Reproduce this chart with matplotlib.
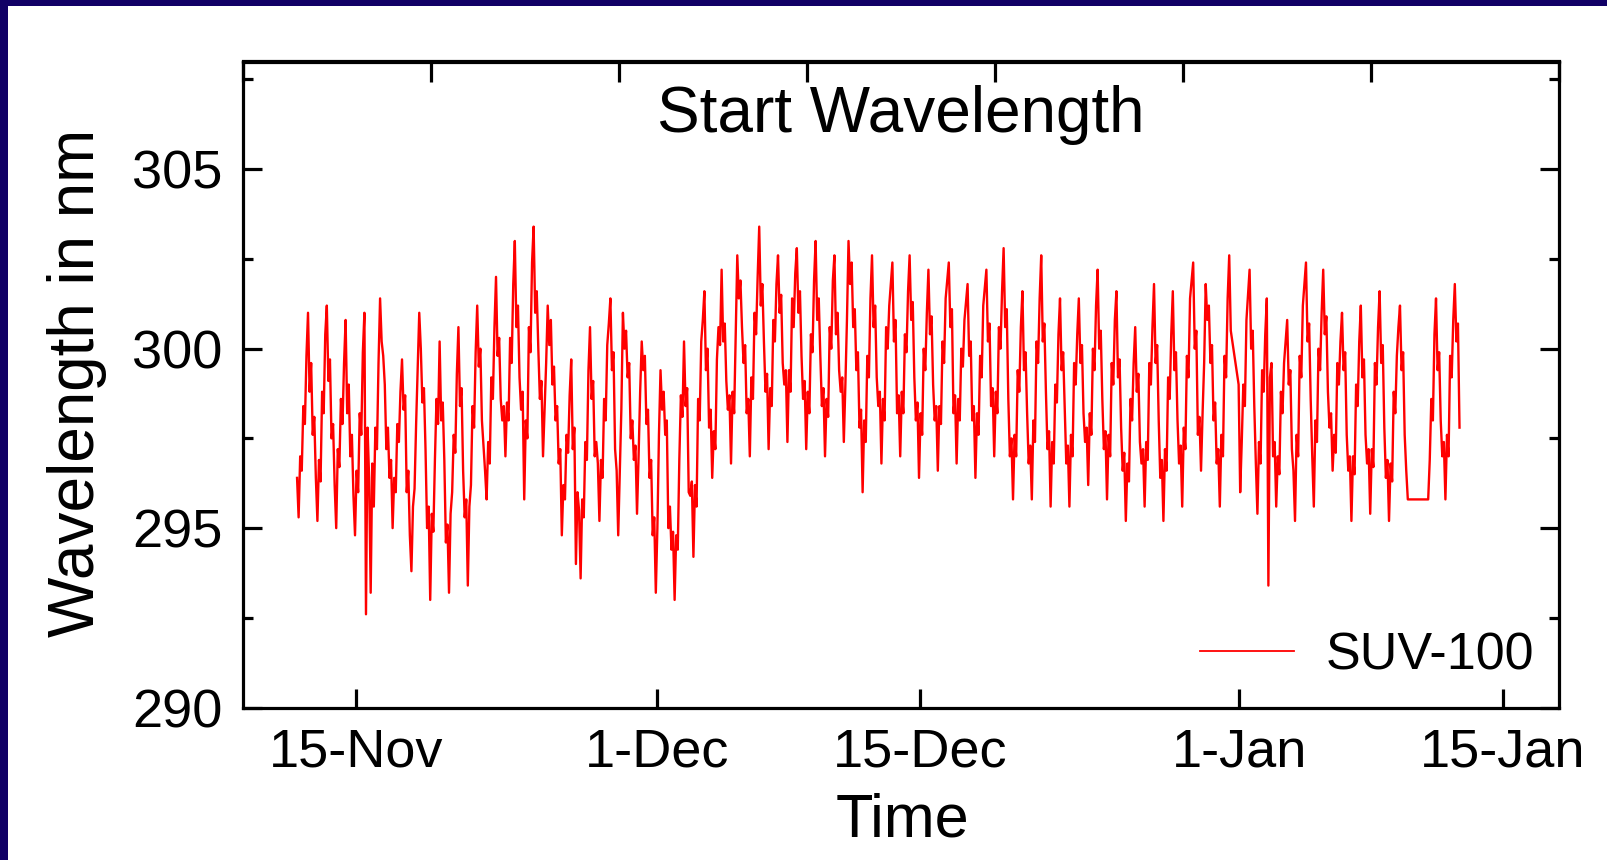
import numpy as np
import pandas as pd
import matplotlib
matplotlib.use("Agg")
import matplotlib.pyplot as plt
from matplotlib.patches import Rectangle
from datetime import datetime, timedelta

nan = np.nan

# ---- data: start wavelength (nm), 12 samples per day (2-hourly) ----
axis_start = datetime(2000, 11, 9)
axis_end = datetime(2001, 1, 18)
first_day = datetime(2000, 11, 11)
samples_per_day = 12

nov_rows = [
    [nan] * 10 + [296.4, 295.3],
    [297.0, 296.6, 298.4, 297.9, 299.8, 301.0, 298.8, 299.6, 297.6, 298.1, 296.4, 295.2],
    [296.9, 296.3, 298.8, 298.2, 300.4, 301.2, 299.1, 299.7, 297.5, 297.9, 296.2, 295.0],
    [297.2, 296.7, 298.6, 297.9, 299.6, 300.8, 298.2, 299.0, 297.0, 297.6, 295.9, 294.8],
    [296.6, 296.0, 298.2, 297.6, 299.9, 301.0, 292.6, 297.8, 296.4, 293.2, 296.8, 295.6],
    [297.8, 297.2, 299.6, 301.4, 300.2, 299.8, 299.0, 297.2, 297.8, 296.4, 296.9, 295.0],
    [296.4, 296.0, 297.9, 297.4, 298.8, 299.7, 298.3, 298.7, 296.0, 296.6, 294.8, 293.8],
    [295.6, 296.1, 297.9, 299.4, 301.0, 300.0, 298.5, 298.9, 297.2, 295.0, 295.6, 293.0],
    [295.4, 294.9, 296.9, 298.6, 297.9, 300.2, 298.0, 298.5, 296.9, 294.6, 295.1, 293.2],
    [295.4, 296.0, 297.6, 297.1, 299.3, 300.6, 298.4, 298.9, 296.6, 295.3, 295.8, 293.4],
    [295.6, 296.2, 298.4, 297.8, 299.9, 301.2, 299.5, 300.0, 298.0, 297.3, 296.6, 295.8],
    [297.4, 296.8, 299.2, 298.6, 300.6, 302.0, 299.8, 300.3, 298.6, 298.0, 298.4, 297.0],
    [298.5, 298.0, 300.3, 299.6, 301.8, 303.0, 300.6, 301.2, 299.2, 298.3, 298.8, 295.8],
    [298.0, 297.5, 300.6, 299.9, 302.4, 303.4, 301.0, 301.6, 300.0, 298.6, 299.1, 297.0],
    [298.3, 299.6, 301.2, 300.1, 300.8, 299.0, 299.5, 298.0, 298.4, 296.8, 297.2, 294.8],
    [296.2, 295.8, 297.6, 297.1, 298.7, 299.7, 297.2, 297.8, 294.0, 296.0, 295.5, 293.6],
    [295.8, 295.3, 297.4, 296.9, 299.4, 300.6, 298.6, 299.1, 297.0, 297.4, 296.8, 295.2],
    [296.9, 296.4, 298.6, 298.0, 300.1, 300.7, 301.4, 299.4, 299.9, 297.2, 296.6, 294.8],
    [296.6, 298.3, 301.0, 300.0, 300.5, 299.2, 299.6, 297.5, 298.0, 296.9, 297.3, 295.4],
    [297.0, 298.8, 300.2, 299.4, 299.8, 297.9, 298.3, 296.4, 296.9, 294.8, 295.3, 293.2],
]

dec_rows = [
    [295.0, 297.6, 299.4, 298.3, 298.8, 297.6, 298.0, 295.0, 295.6, 294.4, 294.9, 293.0],
    [294.8, 294.4, 296.9, 298.7, 298.1, 300.2, 298.4, 298.9, 296.0, 295.9, 296.3, 294.2],
    [296.2, 295.6, 298.6, 298.0, 300.2, 300.8, 301.6, 299.4, 300.0, 297.8, 298.3, 296.4],
    [297.7, 297.2, 299.7, 300.6, 300.1, 302.2, 300.2, 300.7, 299.1, 298.3, 298.7, 296.8],
    [298.8, 298.2, 300.4, 302.6, 301.4, 301.9, 300.6, 299.6, 300.1, 298.2, 298.6, 297.0],
    [299.2, 298.6, 301.0, 300.4, 302.0, 303.4, 301.2, 301.8, 300.2, 298.8, 299.3, 297.2],
    [298.9, 298.4, 300.8, 300.2, 301.8, 302.6, 301.0, 301.5, 299.6, 299.0, 299.4, 297.4],
    [299.4, 298.8, 301.4, 300.6, 302.1, 302.8, 301.0, 301.6, 299.8, 298.6, 299.1, 297.2],
    [298.8, 298.2, 300.4, 299.9, 301.9, 303.0, 300.8, 301.4, 299.8, 298.4, 298.9, 297.0],
    [298.6, 298.1, 300.6, 300.0, 301.9, 302.6, 300.4, 301.0, 299.4, 298.8, 299.2, 297.4],
    [299.0, 300.8, 303.0, 301.8, 302.4, 300.6, 301.1, 299.4, 299.9, 297.8, 298.3, 296.0],
    [298.0, 297.4, 299.8, 299.2, 301.4, 302.6, 300.6, 301.2, 299.2, 298.4, 298.8, 296.8],
    [298.6, 298.0, 300.6, 300.0, 301.2, 301.8, 302.4, 300.2, 300.8, 298.2, 298.7, 297.0],
    [298.8, 298.2, 300.4, 299.9, 301.6, 302.6, 300.8, 301.3, 299.2, 298.0, 298.5, 296.4],
    [298.2, 297.6, 300.0, 299.4, 301.0, 302.2, 300.4, 300.9, 299.0, 298.0, 298.4, 296.6],
    [298.4, 297.9, 300.2, 299.6, 301.4, 301.9, 302.4, 300.6, 301.1, 298.2, 298.7, 296.8],
    [298.6, 298.0, 300.0, 299.5, 300.8, 301.3, 301.8, 299.8, 300.2, 298.0, 298.4, 296.4],
    [298.2, 297.6, 299.8, 299.2, 301.2, 301.7, 302.2, 300.2, 300.7, 298.4, 298.9, 297.0],
    [298.8, 298.2, 300.6, 300.0, 301.6, 302.8, 300.6, 301.1, 298.6, 297.0, 297.5, 295.8],
    [297.6, 297.0, 299.4, 298.8, 300.6, 301.6, 299.4, 299.9, 298.2, 296.8, 297.3, 295.8],
    [298.0, 297.4, 300.2, 299.6, 301.4, 302.6, 300.2, 300.7, 298.8, 297.2, 297.7, 295.6],
    [297.4, 296.8, 299.0, 298.5, 300.4, 301.4, 299.4, 299.9, 298.4, 296.8, 297.3, 295.6],
    [297.6, 297.0, 299.6, 299.0, 300.4, 301.4, 299.6, 300.1, 298.2, 297.4, 297.8, 296.2],
    [298.2, 297.6, 300.0, 299.4, 301.2, 302.2, 300.0, 300.5, 298.6, 297.2, 297.7, 295.8],
    [297.6, 297.0, 299.6, 299.0, 300.8, 301.6, 299.2, 299.7, 297.8, 296.6, 297.1, 295.2],
    [296.8, 296.3, 298.6, 298.0, 299.6, 300.6, 298.8, 299.3, 297.4, 296.8, 297.2, 295.6],
    [297.4, 296.9, 299.6, 299.0, 300.6, 301.8, 299.6, 300.1, 298.0, 296.4, 296.9, 295.2],
    [297.2, 296.6, 299.2, 298.6, 300.4, 301.6, 299.4, 299.9, 298.0, 296.8, 297.3, 295.6],
    [297.8, 297.2, 299.8, 299.2, 301.4, 301.9, 302.4, 300.0, 300.5, 297.6, 298.1, 296.6],
    [298.2, 299.6, 301.8, 300.8, 301.2, 299.6, 300.1, 298.0, 298.5, 296.8, 297.2, 295.6],
    [297.6, 297.0, 299.8, 299.2, 301.4, 302.6, 300.5, nan, nan, nan, nan, 299.0],
]

jan_rows = [
    [296.0, 297.4, 299.0, 298.4, 300.8, 301.5, 302.2, 300.0, 300.5, 298.4, 296.8, 295.4],
    [297.4, 296.8, 299.4, 298.8, 300.4, 301.4, 293.4, 299.2, 299.6, 297.0, 297.4, 295.6],
    [297.0, 296.5, 298.8, 298.2, 299.6, 300.2, 300.8, 299.0, 299.4, 297.2, 296.6, 295.2],
    [297.6, 297.0, 299.8, 299.2, 301.2, 301.8, 302.4, 300.2, 300.7, 298.6, 297.0, 295.6],
    [298.0, 297.4, 300.0, 299.4, 301.0, 302.2, 300.4, 300.9, 298.8, 297.8, 298.2, 296.6],
    [297.6, 297.1, 299.6, 299.0, 300.2, 301.0, 299.4, 299.9, 297.6, 296.6, 297.0, 295.2],
    [297.0, 296.5, 299.0, 298.4, 300.2, 301.2, 299.2, 299.7, 297.6, 296.8, 297.2, 295.4],
    [297.2, 296.7, 299.6, 299.0, 300.6, 301.6, 299.6, 300.1, 297.8, 296.4, 296.9, 295.2],
    [296.8, 296.3, 298.8, 298.2, 299.8, 300.6, 301.2, 299.4, 299.9, 297.6, 296.6, 295.8],
    [nan] * 12,
    [295.8, 296.9, 298.6, 298.0, 300.4, 301.4, 299.4, 299.9, 298.0, 297.0, 297.4, 295.8],
    [297.6, 297.0, 299.8, 299.2, 300.8, 301.8, 300.2, 300.7, 297.8, nan, nan, nan],
]

tick_dates = [datetime(2000, 11, 15), datetime(2000, 12, 1), datetime(2000, 12, 15),
              datetime(2001, 1, 1), datetime(2001, 1, 15)]
tick_labels = ["15-Nov", "1-Dec", "15-Dec", "1-Jan", "15-Jan"]
series_name = "SUV-100"

# ---- build time series ----
values = np.array(nov_rows + dec_rows + jan_rows, dtype=float).ravel()
step = timedelta(days=1) / samples_per_day
times = [first_day + step / 2 + i * step for i in range(len(values))]
df = pd.DataFrame({"time": times, "wl": values}).dropna()

# ---- figure ----
FONT = "Liberation Sans"
plt.rcParams["font.family"] = [FONT, "DejaVu Sans"]
W, H = 1608, 860
fig = plt.figure(figsize=(W / 100, H / 100), dpi=100, facecolor="#110066")
bg = Rectangle((8 / W, 0), 1, 1 - 6 / H, transform=fig.transFigure,
               facecolor="white", edgecolor="none", zorder=-10)
fig.patches.append(bg)

ax = fig.add_axes([243 / W, 1 - 707.6 / H, (1559 - 243) / W, (707.6 - 61.5) / H])
ax.set_zorder(1)
ax.plot(df["time"], df["wl"], color="#ff0000", lw=1.7, label=series_name)

ax.set_xlim(axis_start, axis_end)
ax.set_ylim(290, 308)
ax.set_yticks([290, 295, 300, 305])
ax.set_yticks([292.5, 297.5, 302.5, 307.5], minor=True)
ax.set_xticks(tick_dates)
ax.set_xticklabels(tick_labels)

for s in ax.spines.values():
    s.set_linewidth(2.3)
ax.tick_params(axis="both", which="major", direction="in", length=14, width=2.3,
               labelsize=39, right=True)
ax.tick_params(axis="y", which="minor", direction="in", length=7, width=2.3, right=True)
ax.tick_params(axis="x", which="major", pad=14)
ax.tick_params(axis="y", which="major", pad=15)

sec = ax.secondary_xaxis("top")
sec.set_xticks([axis_start + timedelta(days=10 * k) for k in range(8)])
sec.set_xticklabels([])
sec.tick_params(direction="in", length=15, width=2.3)
sec.spines["top"].set_linewidth(2.3)

fig.text(0.5 * (243 + 1559) / W, 1 - 115 / H, "Start Wavelength",
         ha="center", va="center", fontsize=46, zorder=5)
fig.text(902 / W, 1 - 821 / H, "Time", ha="center", va="center", fontsize=44)
fig.text(77 / W, 1 - 383 / H, "Wavelength in nm", rotation=90, ha="center",
         va="center", fontsize=46)

leg = ax.legend(loc="center right", bbox_to_anchor=(0.981, 0.080), frameon=False,
                fontsize=37.5, handlelength=1.8, handletextpad=0.6, borderpad=0,
                borderaxespad=0)
for h in leg.get_lines():
    h.set_linewidth(1.3)

fig.savefig("out.png", dpi=100, facecolor=fig.get_facecolor())
